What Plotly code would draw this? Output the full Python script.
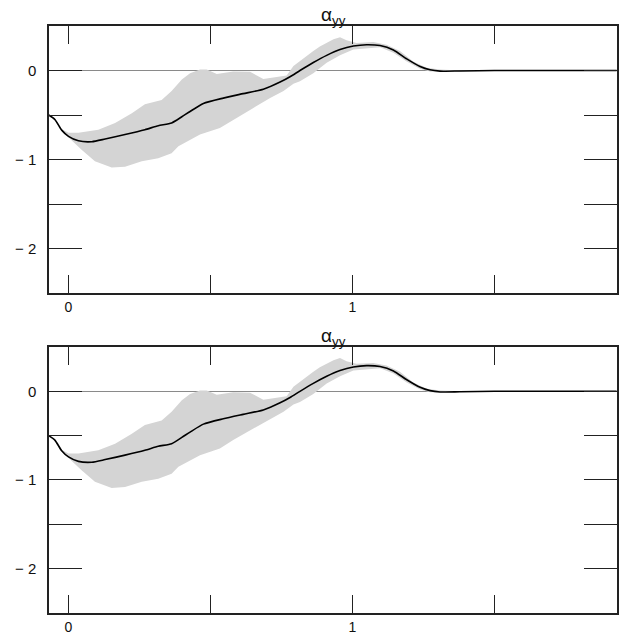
import plotly.graph_objects as go

# Mean response curve
line_x = [-0.07, -0.048, -0.024, 0.0, 0.035, 0.082, 0.129, 0.199, 0.269, 0.316,
          0.363, 0.399, 0.428, 0.475, 0.545, 0.615, 0.686, 0.745, 0.78, 0.815,
          0.862, 0.909, 0.956, 1.003, 1.050, 1.097, 1.144, 1.191, 1.238, 1.273,
          1.308, 1.378, 1.5, 1.7, 1.93]
line_y = [-0.50, -0.55, -0.67, -0.74, -0.79, -0.80, -0.77, -0.72, -0.665, -0.62,
          -0.59, -0.52, -0.46, -0.37, -0.31, -0.26, -0.21, -0.13, -0.07, 0.0,
          0.09, 0.17, 0.235, 0.275, 0.29, 0.28, 0.23, 0.13, 0.045, 0.008,
          -0.007, -0.005, 0.0, 0.0, 0.0]

# Upper edge of the spread band
up_x = [-0.07, -0.048, -0.024, 0.0, 0.035, 0.105, 0.164, 0.223, 0.269, 0.328,
        0.363, 0.399, 0.428, 0.463, 0.487, 0.522, 0.580, 0.639, 0.686, 0.721,
        0.768, 0.792, 0.827, 0.862, 0.885, 0.933, 0.956, 0.979, 1.014, 1.073,
        1.120, 1.167, 1.214, 1.261, 1.308, 1.378, 1.93]
up_y = [-0.50, -0.55, -0.66, -0.70, -0.70, -0.665, -0.59, -0.48, -0.38, -0.33,
        -0.23, -0.10, -0.03, 0.01, 0.01, -0.04, -0.01, -0.015, -0.095, -0.08,
        -0.055, 0.05, 0.14, 0.22, 0.27, 0.35, 0.375, 0.34, 0.31, 0.32,
        0.29, 0.22, 0.10, 0.03, 0.01, 0.0, 0.0]

# Lower edge of the spread band
lo_x = [-0.07, -0.048, -0.024, 0.046, 0.093, 0.152, 0.199, 0.258, 0.316, 0.363,
        0.387, 0.416, 0.463, 0.533, 0.580, 0.651, 0.710, 0.757, 0.792, 0.815,
        0.862, 0.909, 0.956, 1.003, 1.097, 1.144, 1.191, 1.238, 1.273, 1.308,
        1.378, 1.93]
lo_y = [-0.50, -0.56, -0.68, -0.89, -1.02, -1.09, -1.08, -1.02, -0.985, -0.93,
        -0.85, -0.80, -0.72, -0.645, -0.55, -0.42, -0.31, -0.23, -0.15, -0.12,
        -0.03, 0.087, 0.17, 0.235, 0.26, 0.20, 0.10, 0.02, -0.01, -0.01,
        -0.005, 0.0]

x_ticks = [0, 0.5, 1, 1.5]
x_ticktext = ["0", " ", "1", " "]
y_ticks = [-2, -1.5, -1, -0.5, 0]
y_ticktext = ["\u2212 2", " ", "\u2212 1", " ", "0"]
panel_title = "\u03b1<sub>yy</sub>"

X_RANGE = [-0.0687, 1.9313]
Y_RANGE = [-2.5, 0.5]
BAND_COLOR = "#d4d4d4"
FONT_FAMILY = "Liberation Sans, Arial, sans-serif"
Y_FONT = dict(family=FONT_FAMILY, size=15, color="#111")
X_FONT = dict(family=FONT_FAMILY, size=14, color="#111")

fig = go.Figure()

panels = [("x", "y", [0.5451, 1.0]), ("x2", "y2", [0.0, 0.4532])]

for xa, ya, dom in panels:
    fig.add_trace(go.Scatter(
        x=up_x + lo_x[::-1], y=up_y + lo_y[::-1],
        fill="toself", fillcolor=BAND_COLOR, mode="lines",
        line=dict(width=0, color=BAND_COLOR), hoverinfo="skip",
        xaxis=xa, yaxis=ya, showlegend=False))
    fig.add_trace(go.Scatter(
        x=line_x, y=line_y, mode="lines",
        line=dict(color="black", width=1.6, shape="spline", smoothing=0.6),
        xaxis=xa, yaxis=ya, showlegend=False))

axis_common = dict(showgrid=False, showline=True, linecolor="#222", linewidth=1.5,
                   mirror="ticks", ticks="inside", tickcolor="#222", tickwidth=1.3,
                   automargin=False)

for xa, ya, dom in panels:
    xname = "xaxis" if xa == "x" else "xaxis2"
    yname = "yaxis" if ya == "y" else "yaxis2"
    fig.layout[xname] = dict(axis_common, domain=[0, 1], anchor=ya, range=X_RANGE,
                             tickvals=x_ticks, ticktext=x_ticktext, ticklen=18,
                             tickfont=X_FONT, zeroline=False, ticklabelstandoff=0)
    fig.layout[yname] = dict(axis_common, domain=dom, anchor=xa, range=Y_RANGE,
                             tickvals=y_ticks, ticktext=y_ticktext, ticklen=33,
                             tickfont=Y_FONT, zeroline=True, zerolinecolor="#8a8a8a",
                             zerolinewidth=1.2, ticklabelstandoff=8)
    fig.add_annotation(text=panel_title, xref="paper", yref="paper",
                       x=0.5, y=dom[1], xanchor="center", yanchor="bottom",
                       yshift=-4, showarrow=False,
                       font=dict(family=FONT_FAMILY, size=19, color="#111"))

fig.update_layout(width=626, height=635,
                  margin=dict(l=49, r=9, t=26, b=22, autoexpand=False),
                  paper_bgcolor="white", plot_bgcolor="white")

fig.write_html("out.html")
